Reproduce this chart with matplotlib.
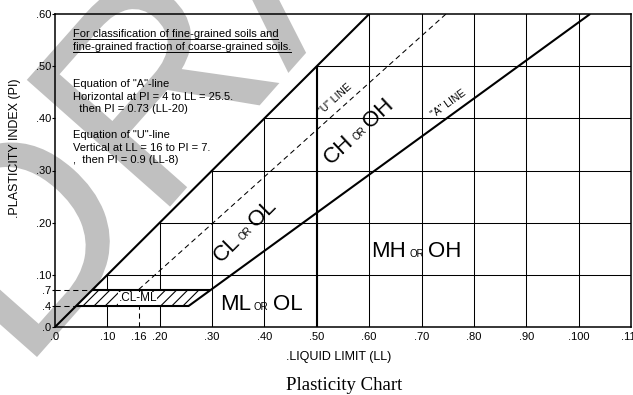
import matplotlib
matplotlib.use('Agg')
import matplotlib.pyplot as plt
import numpy as np
from matplotlib.font_manager import FontProperties
from matplotlib.lines import Line2D
from matplotlib.patches import PathPatch, Polygon
from matplotlib.textpath import TextPath
from matplotlib.transforms import Affine2D

plt.rcParams['font.family'] = ['Liberation Sans', 'DejaVu Sans']
plt.rcParams['hatch.linewidth'] = 0.8

W, H = 633, 395

# axes ranges and ticks
ll_max, pi_max = 110, 60
x_ticks = [0, 10, 16, 20, 30, 40, 50, 60, 70, 80, 90, 100, 110]
x_tick_labels = ['.0', '.10', '.16', '.20', '.30', '.40', '.50', '.60',
                 '.70', '.80', '.90', '.100', '.110']
y_ticks = [0, 4, 7, 10, 20, 30, 40, 50, 60]
y_tick_labels = ['.0', '.4', '.7', '.10', '.20', '.30', '.40', '.50', '.60']
grid_steps = [10, 20, 30, 40, 50, 60, 70, 80, 90, 100]

# "A"-line: PI = 4 up to LL = 25.5, then PI = 0.73 (LL - 20)
a_pi_floor, a_ll_break = 4, 25.5
a_slope, a_shift = 0.73, 20
# "U"-line: vertical at LL = 16 up to PI = 7, then PI = 0.9 (LL - 8)
u_ll, u_pi_top = 16, 7
u_slope, u_shift = 0.9, 8
# CL-ML band and the LL = 50 divide
band_low, band_high = 4, 7
ll_divide = 50

note_lines = ['For classification of fine-grained soils and',
              'fine-grained fraction of coarse-grained soils.']
a_eq_lines = ['Equation of "A"-line', 'Horizontal at PI = 4 to LL = 25.5.',
              '  then PI = 0.73 (LL-20)']
u_eq_lines = ['Equation of "U"-line', 'Vertical at LL = 16 to PI = 7.',
              ',  then PI = 0.9 (LL-8)']

# soil group labels: (LL, PI, angle, major1, major2)
groups = [(52.6, 31.0, 43, 'CH', 'OH'),
          (31.6, 12.2, 45, 'CL', 'OL'),
          (60.4, 13.4, 0, 'MH', 'OH'),
          (31.5, 3.3, 0, 'ML', 'OL')]

# watermark placement (pixels, y down) and look
wm_text = 'DRAFT'
wm_size = 278
wm_angle = 48.5
wm_corner = (37, 357)
wm_color = '#c0c0c0'


def a_line(ll):
    return a_slope * (ll - a_shift)


def u_line(ll):
    return u_slope * (ll - u_shift)


def draw_watermark(fig):
    prop = FontProperties(family='Liberation Sans')
    path = TextPath((0, 0), wm_text, size=wm_size, prop=prop)
    lsb = TextPath((0, 0), wm_text[0], size=wm_size, prop=prop).get_extents().x0
    tr = (Affine2D().translate(-lsb, 0).rotate_deg(wm_angle)
          .translate(wm_corner[0], H - wm_corner[1]).scale(1 / W, 1 / H))
    patch = PathPatch(tr.transform_path(path), facecolor=wm_color,
                      edgecolor='none', transform=fig.transFigure, zorder=-5)
    fig.add_artist(patch)


def place_words(ax, renderer, ll, pi, angle, parts):
    """Write words one after another along a baseline at the given angle."""
    ox, oy = ax.transData.transform((ll, pi))
    ca, sa = np.cos(np.radians(angle)), np.sin(np.radians(angle))
    inv = ax.transData.inverted()
    for text, size, gap in parts:
        t = ax.text(*inv.transform((ox, oy)), text, fontsize=size,
                    ha='left', va='baseline', rotation_mode='anchor', zorder=6)
        w = t.get_window_extent(renderer).width
        t.set_rotation(angle)
        ox += (w + gap) * ca
        oy += (w + gap) * sa


def underline(fig, ax, renderer, text_obj):
    bb = text_obj.get_window_extent(renderer)
    yb = ax.transData.transform(text_obj.get_position())[1] - 2
    fig.add_artist(Line2D([bb.x0 / W, bb.x1 / W], [yb / H, yb / H],
                          color='black', lw=0.7, transform=fig.transFigure))


fig = plt.figure(figsize=(W / 100, H / 100), dpi=100)
fig.patch.set_facecolor('white')
draw_watermark(fig)

ax = fig.add_axes([55 / W, 1 - 327 / H, 576 / W, 313 / H])
ax.set_facecolor('none')
ax.set_xlim(0, ll_max)
ax.set_ylim(0, pi_max)
for sp in ax.spines.values():
    sp.set_linewidth(1.1)
ax.set_xticks(x_ticks, x_tick_labels)
ax.set_yticks(y_ticks, y_tick_labels)
ax.tick_params(axis='x', length=0, pad=3.5, labelsize=8)
ax.tick_params(axis='y', length=2, width=0.8, pad=0.5, labelsize=8)

# grid only below the PI = LL limit
for g in grid_steps:
    ax.plot([g, g], [0, min(g, pi_max)], color='black', lw=0.75, zorder=2)
    if g < pi_max:
        ax.plot([g, ll_max], [g, g], color='black', lw=0.75, zorder=2)

# hatched CL-ML zone
ll_band_top = band_high / a_slope + a_shift
band = Polygon([(band_low, band_low), (a_ll_break, band_low),
                (ll_band_top, band_high), (band_high, band_high)],
               closed=True, facecolor='white', edgecolor='black', lw=0,
               hatch='///', zorder=3)
ax.add_patch(band)

thick = dict(color='black', lw=1.5, zorder=5, solid_capstyle='butt')
dashed = dict(color='black', lw=0.75, ls=(0, (5, 3.5)), zorder=4)

# limit line PI = LL
ax.plot([0, pi_max], [0, pi_max], **thick)
# "A"-line with its horizontal start, and the top of the CL-ML band
a_ll = np.array([a_ll_break, pi_max / a_slope + a_shift])
ax.plot([band_low, a_ll_break], [a_pi_floor, a_pi_floor], **thick)
ax.plot(a_ll, a_line(a_ll), **thick)
ax.plot([band_high, ll_band_top], [band_high, band_high], **thick)
# LL = 50 divide
ax.plot([ll_divide, ll_divide], [0, ll_divide], **thick)
# "U"-line and the guide dashes
u_ll_end = pi_max / u_slope + u_shift
ax.plot([u_ll, u_ll_end], [u_line(u_ll), pi_max], **dashed)
ax.plot([u_ll, u_ll], [0, u_pi_top], **dashed)
ax.plot([0, band_high], [band_high, band_high], **dashed)
ax.plot([0, band_low], [band_low, band_low], **dashed)

ax.text(15.8, 5.5, '.CL-ML', fontsize=8.5, ha='center', va='center', zorder=6,
        bbox=dict(facecolor='white', edgecolor='none', pad=0.3))

renderer = fig.canvas.get_renderer()

for line, pi in zip(note_lines, [55.6, 53.1]):
    t = ax.text(3.4, pi, line, fontsize=8, ha='left', va='baseline', zorder=6)
    underline(fig, ax, renderer, t)
for line, pi in zip(a_eq_lines, [46.1, 43.6, 41.3]):
    ax.text(3.4, pi, line, fontsize=8, ha='left', va='baseline', zorder=6)
for line, pi in zip(u_eq_lines, [36.3, 33.8, 31.5]):
    ax.text(3.4, pi, line, fontsize=8, ha='left', va='baseline', zorder=6)

for ll, pi, ang, w1, w2 in groups:
    place_words(ax, renderer, ll, pi, ang,
                [(w1, 16, 3), ('OR', 7, 4), (w2, 16, 0)])

place_words(ax, renderer, 50.9, 40.6, 42, [('"U" LINE', 7.5, 0)])
place_words(ax, renderer, 72.3, 40.0, 36, [('"A" LINE', 7.5, 0)])

fig.text(15 / W, 1 - 148 / H, '.PLASTICITY INDEX (PI)', rotation=90,
         fontsize=9, ha='center', va='center')
fig.text(339 / W, 1 - 357 / H, '.LIQUID LIMIT (LL)', fontsize=9,
         ha='center', va='center')
fig.text(344 / W, 1 - 385 / H, 'Plasticity Chart', fontsize=13.5,
         family='Liberation Serif', ha='center', va='center')

fig.savefig('out.png', dpi=100)
